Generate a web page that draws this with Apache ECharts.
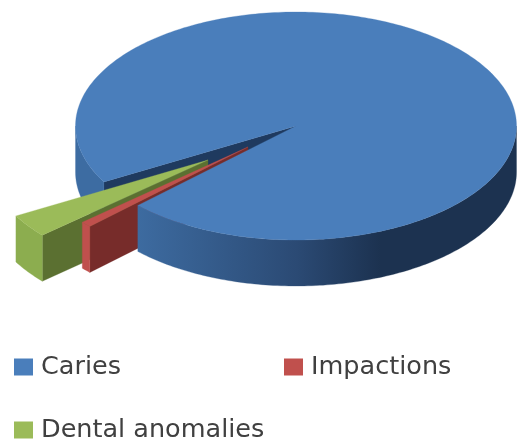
<!DOCTYPE html>
<html><head><meta charset="utf-8">
<style>html,body{margin:0;padding:0;background:#fff}#c{width:517px;height:441px;filter:blur(0.6px)}</style>
<script src="https://cdn.jsdelivr.net/npm/echarts@6/dist/echarts.min.js"></script>
</head><body><div id="c"></div>
<script>
const categories = ['Caries', 'Impactions', 'Dental anomalies'];
const values = [95.9, 0.8, 3.3];
const topColors = ['#4a7ebb', '#c0504d', '#9bbb59'];
const rimColors = ['#3d6ca2', '#c0504d', '#8cad4f'];
const cutColors = ['#1f3a5f', '#772c2a', '#5b7031'];
const explodeX = [0, -48, -88];
const explodeY = [0, 21, 34];
const layers = [4, 3, 2];
const startAngle = 150.6, cx = 296, cy = 126, rx = 220.5, ry = 114, depth = 46;

const total = values.reduce((a, b) => a + b, 0);
let acc = startAngle;
const spans = values.map(v => { const a = acc; acc += v / total * 360; return [a, acc]; });

function renderItem(params, api) {
  const i = params.seriesIndex, [a0, a1] = spans[i];
  const ox = cx + explodeX[i], oy = cy + explodeY[i];
  const P = (deg, d) => api.coord([ox + rx * Math.cos(deg * Math.PI / 180), oy + ry * Math.sin(deg * Math.PI / 180) + d]);
  const C = d => api.coord([ox, oy + d]);
  const arc = (a, b, d) => { const r = [], n = Math.max(2, Math.ceil(Math.abs(b - a))); for (let k = 0; k <= n; k++) r.push(P(a + (b - a) * k / n, d)); return r; };
  const poly = (points, fill, z2) => ({ type: 'polygon', z2, shape: { points }, style: { fill, stroke: fill, lineWidth: 0.3 } });
  const wall = (a, b, fill, z2) => poly(arc(a, b, 0).concat(arc(b, a, depth)), fill, z2);
  const z = layers[i], out = [];
  // radial cut face at the start edge
  out.push(poly([C(0), P(a0, 0), P(a0, depth), C(depth)], cutColors[i], i === 0 ? 1 : z));
  // outer rim, visible on the front half only
  for (const k of [0, 360]) {
    const a = Math.max(a0, k), b = Math.min(a1, k + 180);
    if (b > a) {
      const fill = i === 0 && k === 360 ? {
        type: 'linear', x: 0, y: 0, x2: 1, y2: 0,
        colorStops: [{ offset: 0, color: '#3d6ba0' }, { offset: 0.42, color: '#2b4a74' }, { offset: 0.64, color: '#1c3250' }, { offset: 1, color: '#1c3250' }]
      } : rimColors[i];
      out.push(wall(a, b, fill, i === 0 && k === 0 ? 1 : z));
    }
  }
  // top face
  out.push(poly([C(0)].concat(arc(a0, a1, 0)), topColors[i], z));
  return { type: 'group', children: out };
}

const legendPos = [{ left: 14, top: 354 }, { left: 284, top: 354 }, { left: 14, top: 417 }];
const chart = echarts.init(document.getElementById('c'), null, { renderer: 'canvas' });
chart.setOption({
  animation: false,
  backgroundColor: '#fff',
  grid: { left: 0, right: 0, top: 0, bottom: 0 },
  xAxis: { type: 'value', min: 0, max: 517, show: false },
  yAxis: { type: 'value', min: 0, max: 441, inverse: true, show: false },
  legend: categories.map((c, i) => ({
    data: [c], left: legendPos[i].left, top: legendPos[i].top, orient: 'horizontal', padding: 0,
    icon: 'rect', itemWidth: 19, itemHeight: 17, selectedMode: false,
    textStyle: { fontFamily: 'DejaVu Sans', fontSize: 25.5, color: '#404040', padding: [6, 0, 0, 3] }
  })),
  series: categories.map((c, i) => ({
    type: 'custom', name: c, coordinateSystem: 'cartesian2d', clip: false,
    itemStyle: { color: topColors[i] }, renderItem, data: [[values[i], i]], encode: { x: 0, y: 1 }
  }))
});
</script></body></html>
